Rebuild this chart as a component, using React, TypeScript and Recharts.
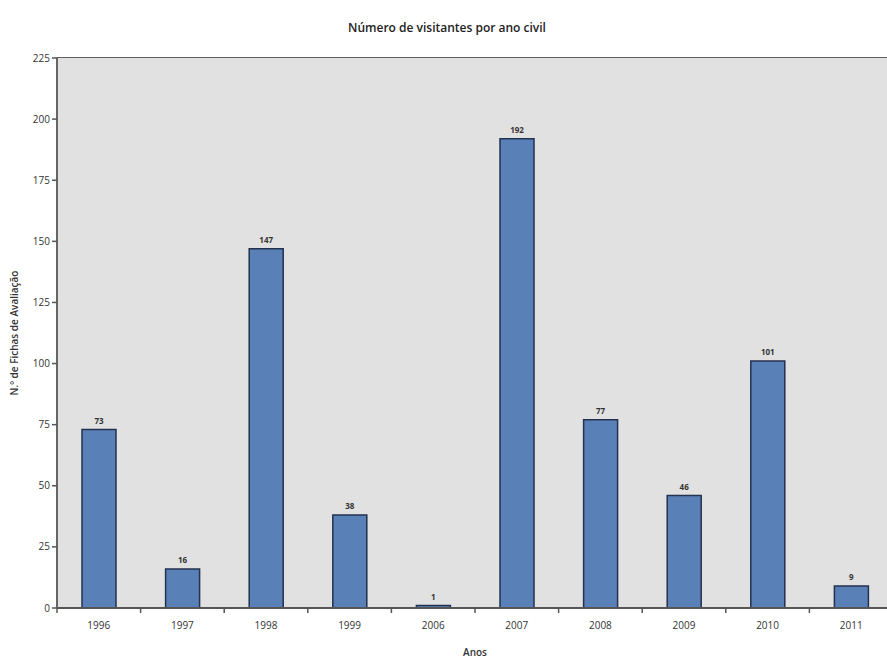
import React from "react";
import { BarChart, Bar, XAxis, YAxis, CartesianGrid, LabelList } from "recharts";

const years = ["1996", "1997", "1998", "1999", "2006", "2007", "2008", "2009", "2010", "2011"];
const visitors = [73, 16, 147, 38, 1, 192, 77, 46, 101, 9];
const yTicks = [0, 25, 50, 75, 100, 125, 150, 175, 200, 225];

const data = years.map((year, i) => ({ year, visitors: visitors[i] }));

const FONT = "'Open Sans', 'Liberation Sans', sans-serif";
const TEXT = "#333333";

const XTick = (props: any) => {
  const { x, y, payload } = props;
  const half = payload?.offset ?? 41.75;
  return (
    <g>
      <line x1={x - half} x2={x - half} y1={y - 8} y2={y - 3} stroke="#555" strokeWidth={1.5} />
      <text x={x} y={y + 13} textAnchor="middle" fontSize={10} fill={TEXT} fontFamily={FONT}>
        {payload.value}
      </text>
    </g>
  );
};

export default function App() {
  return (
    <div
      style={{
        position: "fixed",
        left: 0,
        top: 0,
        width: 887,
        height: 669,
        overflow: "hidden",
        background: "#ffffff",
      }}
    >
      <BarChart
        width={900}
        height={669}
        data={data}
        margin={{ top: 58, right: 7, left: 0, bottom: 31 }}
        barCategoryGap={0}
      >
        <rect x={57} y={58} width={843} height={550} fill="#e1e1e1" />
        <CartesianGrid vertical={false} stroke="#5e5e5e" strokeWidth={2} />
        <XAxis
          dataKey="year"
          height={30}
          axisLine={{ stroke: "#555", strokeWidth: 2 }}
          tickLine={false}
          tick={<XTick />}
          interval={0}
        />
        <YAxis
          width={57}
          domain={[0, 225]}
          ticks={yTicks}
          interval={0}
          axisLine={{ stroke: "#666", strokeWidth: 2 }}
          tickLine={{ stroke: "#555", strokeWidth: 1.5 }}
          tickSize={5}
          tick={{ fontSize: 10, fill: TEXT, fontFamily: FONT }}
        />
        <Bar
          dataKey="visitors"
          fill="#5a80b8"
          stroke="#23324f"
          strokeWidth={1.5}
          barSize={34}
          isAnimationActive={false}
        >
          <LabelList
            dataKey="visitors"
            position="top"
            offset={6}
            fontSize={8}
            fontWeight={700}
            fill={TEXT}
            fontFamily={FONT}
          />
        </Bar>
        <text
          x={447}
          y={32}
          textAnchor="middle"
          fontSize={12}
          fontWeight={600}
          fill="#222"
          fontFamily={FONT}
        >
          Número de visitantes por ano civil
        </text>
        <text
          x={475}
          y={656}
          textAnchor="middle"
          fontSize={10}
          fontWeight={600}
          fill={TEXT}
          fontFamily={FONT}
        >
          Anos
        </text>
        <text
          x={18}
          y={333}
          textAnchor="middle"
          fontSize={10}
          fontWeight={600}
          fill={TEXT}
          fontFamily={FONT}
          transform="rotate(-90 18 333)"
        >
          N.º de Fichas de Avaliação
        </text>
      </BarChart>
    </div>
  );
}
